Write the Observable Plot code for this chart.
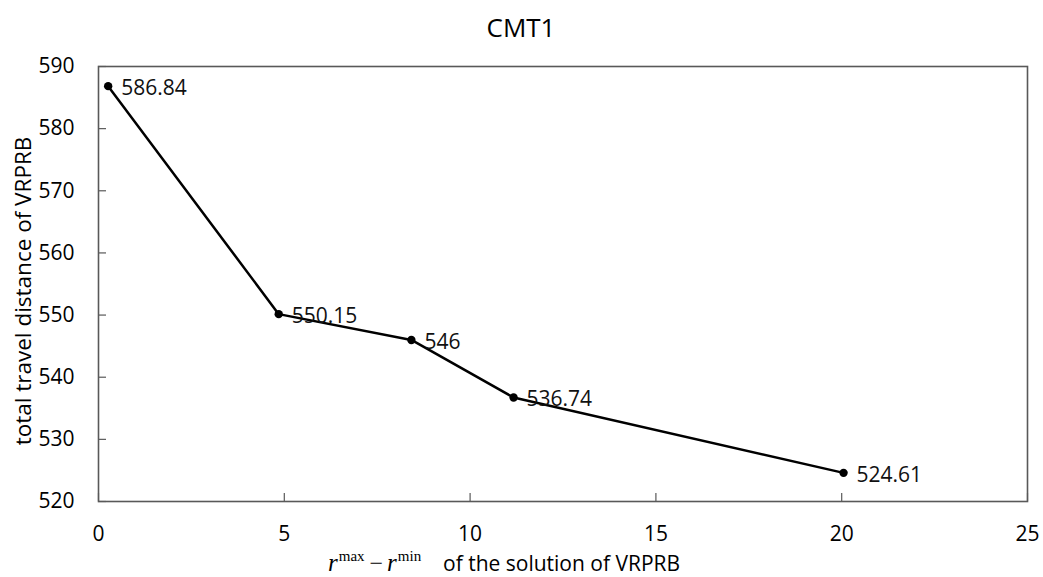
<!DOCTYPE html>
<html><head><meta charset="utf-8">
<script src="https://cdn.jsdelivr.net/npm/d3@7"></script>
<script src="https://cdn.jsdelivr.net/npm/@observablehq/plot@0.6"></script>
<style>body{margin:0;background:#fff}</style>
</head><body><div id="chart"></div>
<script>
const titleText = "CMT1";
const xValues = [0.26, 4.85, 8.42, 11.17, 20.05];
const yValues = [586.84, 550.15, 546, 536.74, 524.61];
const pointLabels = ["586.84", "550.15", "546", "536.74", "524.61"];
const xTicks = [0, 5, 10, 15, 20, 25];
const yTicks = [520, 530, 540, 550, 560, 570, 580, 590];
const yLabel = "total travel distance of VRPRB";
const xLabelTail = "of the solution of VRPRB";

const data = xValues.map((x, i) => ({x, y: yValues[i], label: pointLabels[i]}));

const chart = Plot.plot({
  width: 1043, height: 577,
  marginLeft: 98, marginRight: 16, marginTop: 66, marginBottom: 76,
  style: {fontFamily: "'Open Sans', sans-serif", fontSize: "21px", color: "#000", background: "#fff"},
  x: {domain: [0, 25]},
  y: {domain: [520, 590]},
  marks: [
    Plot.axisX({ticks: xTicks, tickSize: -8, tickPadding: 33, label: null, fontSize: 21, stroke: "#595959", strokeWidth: 1.2}),
    Plot.axisY({ticks: yTicks, tickSize: -8, tickPadding: 32, label: null, fontSize: 21, stroke: "#595959", strokeWidth: 1.2}),
    Plot.frame({stroke: "#595959", strokeWidth: 1.6}),
    Plot.line(data, {x: "x", y: "y", stroke: "#000", strokeWidth: 2.5}),
    Plot.dot(data, {x: "x", y: "y", r: 4.2, fill: "#000"}),
    Plot.text(data, {x: "x", y: "y", text: "label", textAnchor: "start", dx: 13, dy: 2, fontSize: 21, fill: "#111"})
  ]
});
document.getElementById("chart").appendChild(chart);

const svg = d3.select(chart);
svg.append("text")
  .attr("x", 521).attr("y", 37)
  .attr("text-anchor", "middle")
  .style("font-family", "'Open Sans', sans-serif").style("font-size", "26px").attr("fill", "#000")
  .text(titleText);

svg.append("text")
  .attr("transform", "translate(22,291) rotate(-90)")
  .attr("text-anchor", "middle").attr("dominant-baseline", "central")
  .style("font-family", "'Open Sans', sans-serif").style("font-size", "22.5px").attr("fill", "#000")
  .text(yLabel);

const xl = svg.append("text")
  .attr("x", 328).attr("y", 571)
  .attr("text-anchor", "start")
  .attr("fill", "#000")
  .style("font-family", "'Liberation Serif', serif");
xl.append("tspan").style("font-style", "italic").style("font-size", "25px").text("r");
xl.append("tspan").style("font-size", "15px").attr("dy", -10).attr("dx", 1).text("max");
xl.append("tspan").style("font-size", "24px").attr("dy", 10).attr("dx", 5).text("\u2212");
xl.append("tspan").style("font-style", "italic").style("font-size", "25px").attr("dx", 4).text("r");
xl.append("tspan").style("font-size", "15px").attr("dy", -10).attr("dx", 1).text("min");
xl.append("tspan").attr("x", 443).attr("dy", 10)
  .style("font-family", "'Open Sans', sans-serif").style("font-size", "21px").text(xLabelTail);
</script>
</body></html>
